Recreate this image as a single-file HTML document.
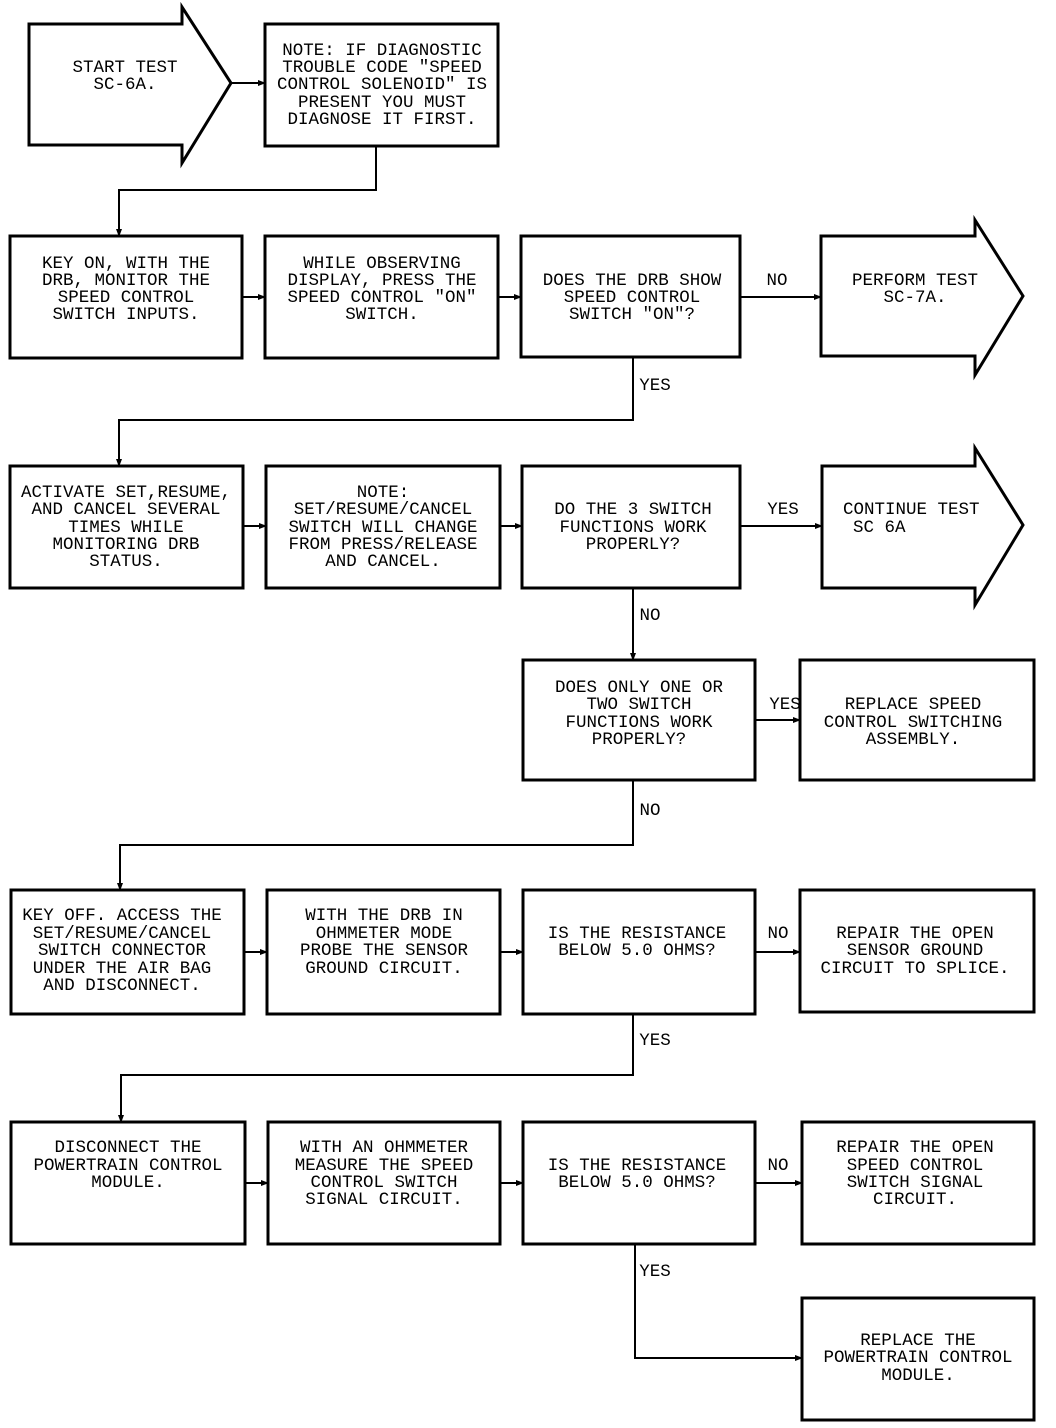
<!DOCTYPE html>
<html><head><meta charset="utf-8"><style>
html,body{margin:0;padding:0;background:#fff;}
svg{display:block}
text{font-family:"Liberation Mono",monospace;font-size:17.5px;fill:#000;text-anchor:middle;}
.l{text-anchor:start}
</style></head><body>
<svg width="1056" height="1428" viewBox="0 0 1056 1428" xmlns="http://www.w3.org/2000/svg">
<defs><marker id="a" markerWidth="8" markerHeight="8" refX="7" refY="4" orient="auto" markerUnits="userSpaceOnUse"><path d="M0,1 L8,4 L0,7 Z" fill="#000"/></marker></defs>
<g fill="none" stroke="#000" stroke-width="3">
<!-- arrows -->
<path d="M29,24 H182 V7 L231,83 L182,163 V145 H29 Z"/>
<path d="M821,236 H975 V220 L1023,296 L975,375 V356 H821 Z"/>
<path d="M822,466 H975 V448 L1023,525 L975,605 V588 H822 Z"/>
<!-- boxes -->
<rect x="265" y="24" width="233" height="122"/>
<rect x="10" y="236" width="232" height="122"/>
<rect x="265" y="236" width="233" height="122"/>
<rect x="521" y="236" width="219" height="121"/>
<rect x="10" y="466" width="233" height="122"/>
<rect x="266" y="466" width="234" height="122"/>
<rect x="522" y="466" width="218" height="122"/>
<rect x="523" y="660" width="232" height="120"/>
<rect x="800" y="660" width="234" height="120"/>
<rect x="11" y="890" width="233" height="124"/>
<rect x="267" y="890" width="233" height="124"/>
<rect x="523" y="890" width="232" height="124"/>
<rect x="800" y="890" width="234" height="122"/>
<rect x="11" y="1122" width="234" height="122"/>
<rect x="268" y="1122" width="232" height="122"/>
<rect x="523" y="1122" width="232" height="122"/>
<rect x="802" y="1122" width="232" height="122"/>
<rect x="802" y="1298" width="232" height="122"/>
</g>
<g fill="none" stroke="#000" stroke-width="2">
<path d="M231,83 H265" marker-end="url(#a)"/>
<path d="M376,146 V190 H119 V236" marker-end="url(#a)"/>
<path d="M242,297 H265" marker-end="url(#a)"/>
<path d="M498,297 H521" marker-end="url(#a)"/>
<path d="M740,297 H821" marker-end="url(#a)"/>
<path d="M633,357 V420 H119 V466" marker-end="url(#a)"/>
<path d="M243,526 H266" marker-end="url(#a)"/>
<path d="M500,526 H522" marker-end="url(#a)"/>
<path d="M740,526 H822" marker-end="url(#a)"/>
<path d="M633,588 V660" marker-end="url(#a)"/>
<path d="M755,720 H800" marker-end="url(#a)"/>
<path d="M633,780 V845 H120 V890" marker-end="url(#a)"/>
<path d="M244,952 H267" marker-end="url(#a)"/>
<path d="M500,952 H523" marker-end="url(#a)"/>
<path d="M755,952 H800" marker-end="url(#a)"/>
<path d="M633,1014 V1075 H121 V1122" marker-end="url(#a)"/>
<path d="M245,1183 H268" marker-end="url(#a)"/>
<path d="M500,1183 H523" marker-end="url(#a)"/>
<path d="M755,1183 H802" marker-end="url(#a)"/>
<path d="M635,1244 V1358 H802" marker-end="url(#a)"/>
</g>
<text x="125" y="72">START TEST</text><text x="125" y="89">SC-6A.</text>
<text x="382" y="55">NOTE: IF DIAGNOSTIC</text><text x="382" y="72">TROUBLE CODE "SPEED</text><text x="382" y="89">CONTROL SOLENOID" IS</text><text x="382" y="107">PRESENT YOU MUST</text><text x="382" y="124">DIAGNOSE IT FIRST.</text>

<text x="126" y="268">KEY ON, WITH THE</text><text x="126" y="285">DRB, MONITOR THE</text><text x="126" y="302">SPEED CONTROL</text><text x="126" y="319">SWITCH INPUTS.</text>
<text x="382" y="268">WHILE OBSERVING</text><text x="382" y="285">DISPLAY, PRESS THE</text><text x="382" y="302">SPEED CONTROL "ON"</text><text x="382" y="319">SWITCH.</text>
<text x="632" y="285">DOES THE DRB SHOW</text><text x="632" y="302">SPEED CONTROL</text><text x="632" y="319">SWITCH "ON"?</text>
<text x="777" y="285">NO</text>
<text x="915" y="285">PERFORM TEST</text><text x="915" y="302">SC-7A.</text>
<text x="655" y="390">YES</text>

<text x="126" y="497">ACTIVATE SET,RESUME,</text><text x="126" y="514">AND CANCEL SEVERAL</text><text x="126" y="532">TIMES WHILE</text><text x="126" y="549">MONITORING DRB</text><text x="126" y="566">STATUS.</text>
<text x="383" y="497">NOTE:</text><text x="383" y="514">SET/RESUME/CANCEL</text><text x="383" y="532">SWITCH WILL CHANGE</text><text x="383" y="549">FROM PRESS/RELEASE</text><text x="383" y="566">AND CANCEL.</text>
<text x="633" y="514">DO THE 3 SWITCH</text><text x="633" y="532">FUNCTIONS WORK</text><text x="633" y="549">PROPERLY?</text>
<text x="783" y="514">YES</text>
<text class="l" x="843" y="514">CONTINUE TEST</text><text class="l" x="853" y="532">SC 6A</text>
<text x="650" y="620">NO</text>

<text x="639" y="692">DOES ONLY ONE OR</text><text x="639" y="709">TWO SWITCH</text><text x="639" y="727">FUNCTIONS WORK</text><text x="639" y="744">PROPERLY?</text>
<text x="785" y="709">YES</text>
<text x="913" y="709">REPLACE SPEED</text><text x="913" y="727">CONTROL SWITCHING</text><text x="913" y="744">ASSEMBLY.</text>
<text x="650" y="815">NO</text>

<text x="122" y="920">KEY OFF. ACCESS THE</text><text x="122" y="938">SET/RESUME/CANCEL</text><text x="122" y="955">SWITCH CONNECTOR</text><text x="122" y="973">UNDER THE AIR BAG</text><text x="122" y="990">AND DISCONNECT.</text>
<text x="384" y="920">WITH THE DRB IN</text><text x="384" y="938">OHMMETER MODE</text><text x="384" y="955">PROBE THE SENSOR</text><text x="384" y="973">GROUND CIRCUIT.</text>
<text x="637" y="938">IS THE RESISTANCE</text><text x="637" y="955">BELOW 5.0 OHMS?</text>
<text x="778" y="938">NO</text>
<text x="915" y="938">REPAIR THE OPEN</text><text x="915" y="955">SENSOR GROUND</text><text x="915" y="973">CIRCUIT TO SPLICE.</text>
<text x="655" y="1045">YES</text>

<text x="128" y="1152">DISCONNECT THE</text><text x="128" y="1170">POWERTRAIN CONTROL</text><text x="128" y="1187">MODULE.</text>
<text x="384" y="1152">WITH AN OHMMETER</text><text x="384" y="1170">MEASURE THE SPEED</text><text x="384" y="1187">CONTROL SWITCH</text><text x="384" y="1204">SIGNAL CIRCUIT.</text>
<text x="637" y="1170">IS THE RESISTANCE</text><text x="637" y="1187">BELOW 5.0 OHMS?</text>
<text x="778" y="1170">NO</text>
<text x="915" y="1152">REPAIR THE OPEN</text><text x="915" y="1170">SPEED CONTROL</text><text x="915" y="1187">SWITCH SIGNAL</text><text x="915" y="1204">CIRCUIT.</text>
<text x="655" y="1276">YES</text>

<text x="918" y="1345">REPLACE THE</text><text x="918" y="1362">POWERTRAIN CONTROL</text><text x="918" y="1380">MODULE.</text>
</svg>
</body></html>
